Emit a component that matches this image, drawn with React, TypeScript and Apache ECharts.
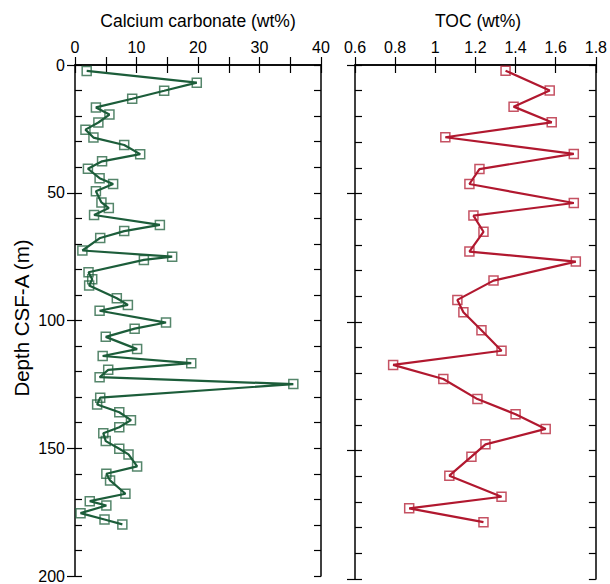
import React, { useEffect, useRef } from "react";
import * as echarts from "echarts";

const caDepth = [2.3, 6.9, 10.1, 13.2, 16.6, 19.4, 22.5, 25.3, 28.4, 31.3, 34.9, 37.7, 40.6, 44.3, 46.6, 49.4, 53.8, 56.0, 58.7, 62.6, 65.0, 67.7, 72.6, 75.0, 76.3, 81.1, 83.9, 86.3, 91.3, 93.9, 96.2, 100.8, 103.2, 106.4, 111.2, 113.9, 116.7, 119.3, 122.2, 124.9, 130.2, 132.9, 135.9, 139.0, 141.8, 144.1, 147.2, 150.2, 152.4, 157.1, 160.0, 162.6, 167.8, 170.7, 172.4, 175.4, 177.9, 179.8];
const caco3 = [1.9, 19.8, 14.5, 9.3, 3.4, 5.6, 3.8, 1.7, 3.0, 8.0, 10.6, 4.4, 2.1, 4.0, 6.2, 3.4, 4.3, 5.5, 3.1, 13.8, 8.0, 4.1, 1.2, 15.8, 11.2, 2.2, 2.8, 2.3, 6.8, 8.6, 4.0, 14.8, 9.7, 5.0, 10.1, 4.5, 18.9, 5.4, 4.0, 35.5, 4.1, 3.6, 7.2, 9.1, 7.2, 4.6, 5.0, 7.2, 8.7, 10.1, 5.1, 5.7, 8.2, 2.4, 5.1, 0.9, 4.8, 7.7];

const tocDepth = [2.2, 9.9, 16.2, 22.3, 28.1, 34.6, 40.5, 46.3, 53.7, 58.6, 64.9, 72.6, 76.5, 83.9, 91.4, 96.2, 103.2, 111.2, 116.7, 122.2, 130.0, 135.9, 141.6, 147.6, 152.4, 159.8, 168.0, 172.5, 177.9];
const toc = [1.35, 1.57, 1.39, 1.58, 1.05, 1.69, 1.22, 1.17, 1.69, 1.19, 1.24, 1.17, 1.70, 1.29, 1.11, 1.14, 1.23, 1.33, 0.79, 1.04, 1.21, 1.40, 1.55, 1.25, 1.18, 1.07, 1.33, 0.87, 1.24];

const titles = ["Calcium carbonate (wt%)", "TOC (wt%)"];
const yName = "Depth CSF-A (m)";

const FONT = "Liberation Sans, Arial, Helvetica, sans-serif";
const GREEN = "#1c5d3a";
const RED = "#b1182f";

export default function App() {
  const ref = useRef<HTMLDivElement>(null);
  useEffect(() => {
    const chart = echarts.init(ref.current!, null, { renderer: "svg" });
    const axisLine = { show: true, lineStyle: { color: "#000", width: 1.5 } };
    const tickLabel = { color: "#000", fontSize: 16, fontFamily: FONT };
    const grids = [
      { left: 75, top: 65, width: 246, height: 514 },
      { left: 355, top: 65, width: 246, height: 514 },
    ];
    const xAxes: any[] = [];
    const yAxes: any[] = [];
    const xCfg = [
      { min: 0, max: 40, interval: 5, fmt: (v: number) => (v % 10 === 0 ? String(v) : "") },
      { min: 0.6, max: 1.8, interval: 0.2, fmt: (v: number) => String(parseFloat(v.toFixed(1))) },
    ];
    for (let g = 0; g < 2; g++) {
      const c = xCfg[g];
      xAxes.push({
        type: "value", gridIndex: g, position: "top", min: c.min, max: c.max, interval: c.interval,
        axisLine, splitLine: { show: false },
        axisTick: { show: true, inside: true, length: 8, lineStyle: { color: "#000", width: 1.2 } },
        axisLabel: { ...tickLabel, margin: 10, formatter: c.fmt },
      });
      xAxes.push({
        type: "value", gridIndex: g, position: "bottom", min: c.min, max: c.max, interval: c.interval,
        axisLine, splitLine: { show: false },
        axisTick: { show: true, inside: true, length: 8, lineStyle: { color: "#000", width: 1.2 } },
        axisLabel: { show: false },
      });
      yAxes.push({
        type: "value", gridIndex: g, position: "left", inverse: true, min: 0, max: 200, interval: 10,
        axisLine, splitLine: { show: false },
        axisTick: { show: true, inside: true, length: 7, lineStyle: { color: "#000", width: 1.2 } },
        axisLabel: { show: false },
      });
      yAxes.push({
        type: "value", gridIndex: g, position: "left", inverse: true, min: 0, max: 200, interval: 50,
        axisLine: { show: false }, splitLine: { show: false },
        axisTick: { show: true, inside: false, length: 8, lineStyle: { color: "#000", width: 1.2 } },
        axisLabel: g === 0 ? { ...tickLabel, margin: 10 } : { show: false },
      });
      yAxes.push({
        type: "value", gridIndex: g, position: "right", inverse: true, min: 0, max: 200, interval: 10,
        axisLine, splitLine: { show: false },
        axisTick: { show: true, inside: true, length: 7, lineStyle: { color: "#000", width: 1.2 } },
        axisLabel: { show: false },
      });
    }
    const mk = (xs: number[], ds: number[]) => xs.map((v, i) => [v, ds[i]]);
    const seriesStyle = (color: string, border: string) => ({
      type: "line",
      symbol: "rect",
      symbolSize: 9,
      lineStyle: { color, width: 2.2 },
      itemStyle: { color: "rgba(255,255,255,0)", borderColor: border, borderWidth: 1.5 },
    });
    chart.setOption({
      animation: false,
      grid: grids,
      xAxis: xAxes,
      yAxis: yAxes,
      graphic: [
        { type: "text", x: 198, y: 21, style: { text: titles[0], align: "center", verticalAlign: "middle", fontSize: 17.5, fontFamily: FONT, fill: "#000" } },
        { type: "text", x: 478, y: 21, style: { text: titles[1], align: "center", verticalAlign: "middle", fontSize: 17.5, fontFamily: FONT, fill: "#000" } },
        { type: "text", x: 21, y: 318, rotation: Math.PI / 2, style: { text: yName, align: "center", verticalAlign: "middle", fontSize: 20.5, fontFamily: FONT, fill: "#000" } },
      ],
      series: [
        { ...seriesStyle(GREEN, "rgba(28,93,58,0.75)"), xAxisIndex: 0, yAxisIndex: 0, data: mk(caco3, caDepth) },
        { ...seriesStyle(RED, "rgba(177,24,47,0.75)"), xAxisIndex: 2, yAxisIndex: 3, data: mk(toc, tocDepth) },
      ],
    });
    return () => chart.dispose();
  }, []);
  return <div ref={ref} style={{ position: "absolute", left: 0, top: 0, width: 610, height: 584 }} />;
}
